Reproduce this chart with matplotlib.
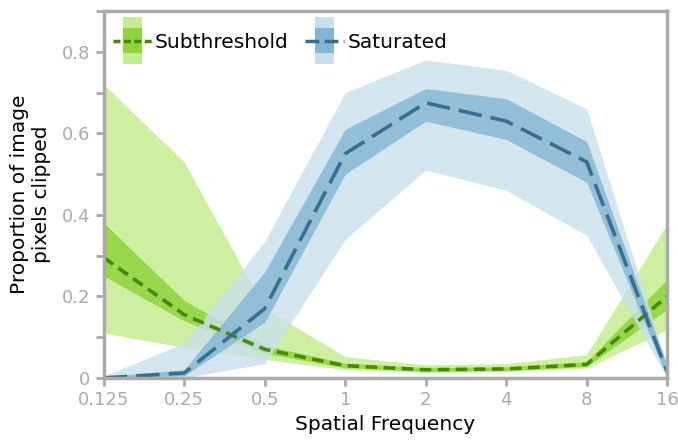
import numpy as np
import matplotlib.pyplot as plt
from matplotlib.legend_handler import HandlerBase
from matplotlib.patches import Rectangle
from matplotlib.lines import Line2D
from matplotlib.ticker import MultipleLocator

freqs = [0.125, 0.25, 0.5, 1, 2, 4, 8, 16]
tick_labels = ["0.125", "0.25", "0.5", "1", "2", "4", "8", "16"]

sub_mean = [0.295, 0.155, 0.07, 0.03, 0.02, 0.022, 0.033, 0.20]
sub_in_lo = [0.25, 0.14, 0.06, 0.025, 0.016, 0.018, 0.028, 0.168]
sub_in_hi = [0.38, 0.19, 0.08, 0.036, 0.025, 0.027, 0.04, 0.242]
sub_out_lo = [0.11, 0.075, 0.045, 0.02, 0.013, 0.015, 0.024, 0.118]
sub_out_hi = [0.72, 0.53, 0.17, 0.052, 0.032, 0.035, 0.057, 0.378]

sat_mean = [0.0, 0.012, 0.17, 0.55, 0.675, 0.63, 0.53, 0.015]
sat_in_lo = [0.0, 0.005, 0.137, 0.50, 0.63, 0.585, 0.48, 0.0]
sat_in_hi = [0.003, 0.02, 0.26, 0.61, 0.71, 0.685, 0.58, 0.03]
sat_out_lo = [0.0, 0.0, 0.035, 0.34, 0.51, 0.46, 0.35, 0.0]
sat_out_hi = [0.005, 0.085, 0.335, 0.70, 0.78, 0.755, 0.66, 0.03]

green_line, green_dark, green_light = "#478708", "#8fd43c", "#c6ec92"
blue_line, blue_dark, blue_light = "#386f90", "#82b6d2", "#c8dfeb"
grey = "#aaaaaa"


class BandHandler(HandlerBase):
    # legend key: light band, darker inner band, dashed line on top
    def __init__(self, light, dark, color, dashes):
        super().__init__()
        self.light, self.dark, self.color, self.dashes = light, dark, color, dashes

    def create_artists(self, legend, orig_handle, xdescent, ydescent, width, height, fontsize, trans):
        cy = height / 2 - ydescent
        cx = width / 2 - xdescent
        w = 13.7
        r1 = Rectangle((cx - w / 2, cy - 17), w, 34,
                       facecolor=self.light, edgecolor="none", transform=trans)
        r2 = Rectangle((cx - w / 2, cy - 9), w, 18,
                       facecolor=self.dark, edgecolor="none", transform=trans)
        ln = Line2D([-xdescent, width - xdescent], [cy, cy],
                    color=self.color, lw=2.5, dashes=self.dashes, transform=trans)
        return [r1, r2, ln]


fig = plt.figure(figsize=(6.78, 4.43), dpi=100)
ax = fig.add_axes([0.153, 0.147, 0.831, 0.828])

ax.fill_between(freqs, sub_out_lo, sub_out_hi, color=green_light, alpha=0.85, lw=0)
ax.fill_between(freqs, sub_in_lo, sub_in_hi, color=green_dark, alpha=0.85, lw=0)
ax.plot(freqs, sub_mean, color=green_line, lw=2.6, dashes=(3.2, 1.8))

ax.fill_between(freqs, sat_out_lo, sat_out_hi, color=blue_light, alpha=0.8, lw=0)
ax.fill_between(freqs, sat_in_lo, sat_in_hi, color=blue_dark, alpha=0.8, lw=0)
ax.plot(freqs, sat_mean, color=blue_line, lw=2.6, dashes=(6.5, 2.5))

ax.set_xscale("log", base=2)
ax.set_xlim(0.125, 16)
ax.set_ylim(0, 0.9)
ax.set_xticks(freqs)
ax.set_xticklabels(tick_labels)
ax.xaxis.set_minor_locator(plt.NullLocator())
ax.set_yticks([0, 0.2, 0.4, 0.6, 0.8])
ax.set_yticklabels(["0", "0.2", "0.4", "0.6", "0.8"])
ax.yaxis.set_minor_locator(MultipleLocator(0.1))
ax.tick_params(which="both", colors=grey, labelsize=13, width=2, length=6, labelcolor=grey)
for s in ax.spines.values():
    s.set_color(grey)
    s.set_linewidth(2.5)

ax.set_xlabel("Spatial Frequency", fontsize=14.5)
ax.set_ylabel("Proportion of image\npixels clipped", fontsize=14.5, labelpad=8)

h1 = Line2D([], [])
h2 = Line2D([], [])
ax.legend([h1, h2], ["Subthreshold", "Saturated"], loc="center left",
          bbox_to_anchor=(0.016, 0.9155), ncol=2,
          frameon=False, fontsize=14.5, handlelength=1.95, handletextpad=0.15,
          columnspacing=0.8, borderaxespad=0, borderpad=0,
          handler_map={h1: BandHandler(green_light, green_dark, green_line, (2, 1)),
                       h2: BandHandler(blue_light, blue_dark, blue_line, (4, 1.5))})

fig.savefig("out.png", dpi=100)
